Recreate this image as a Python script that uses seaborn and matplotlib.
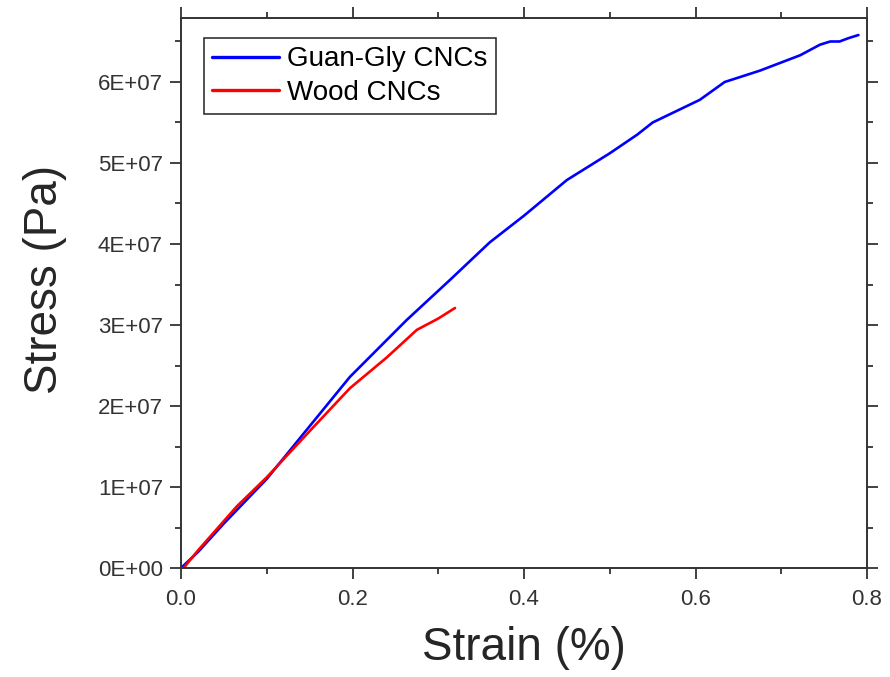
import matplotlib
matplotlib.use("Agg")
import matplotlib.pyplot as plt
import seaborn as sns
import pandas as pd
from matplotlib.ticker import MultipleLocator, FuncFormatter

# Data (strain in %, stress in Pa)
guan_strain = [0.0, 0.02, 0.05, 0.10, 0.143, 0.197, 0.263, 0.314, 0.36, 0.40, 0.45,
               0.50, 0.532, 0.55, 0.605, 0.634, 0.675, 0.722, 0.745, 0.757, 0.768, 0.778, 0.79]
guan_stress = [0.0, 0.20e7, 0.55e7, 1.10e7, 1.66e7, 2.36e7, 3.06e7, 3.56e7, 4.02e7, 4.35e7, 4.79e7,
               5.12e7, 5.35e7, 5.50e7, 5.78e7, 6.00e7, 6.14e7, 6.33e7, 6.46e7, 6.50e7, 6.50e7, 6.54e7, 6.58e7]
wood_strain = [0.003, 0.02, 0.065, 0.10, 0.15, 0.197, 0.24, 0.275, 0.30, 0.3195]
wood_stress = [0.0, 0.22e7, 0.76e7, 1.12e7, 1.69e7, 2.22e7, 2.60e7, 2.94e7, 3.08e7, 3.21e7]
series_names = ["Guan-Gly CNCs", "Wood CNCs"]
x_ticks = [0.0, 0.2, 0.4, 0.6, 0.8]
y_ticks = [0, 1e7, 2e7, 3e7, 4e7, 5e7, 6e7]

df = pd.concat([
    pd.DataFrame({"strain": guan_strain, "stress": guan_stress, "sample": series_names[0]}),
    pd.DataFrame({"strain": wood_strain, "stress": wood_stress, "sample": series_names[1]}),
], ignore_index=True)

sns.set_theme(style="ticks")
plt.rcParams["font.family"] = ["Liberation Sans", "DejaVu Sans"]

fig = plt.figure(figsize=(8.9, 6.77), dpi=100)
ax = fig.add_axes([0.2034, 0.161, 0.7708, 0.8124])

sns.lineplot(data=df, x="strain", y="stress", hue="sample", sort=False, estimator=None,
             palette={series_names[0]: "#0000ff", series_names[1]: "#ff0000"},
             linewidth=1.9, ax=ax)

ax.set_xlim(0, 0.8)
ax.set_ylim(0, 6.79e7)
ax.set_xticks(x_ticks)
ax.set_xticklabels([f"{v:.1f}" for v in x_ticks])
ax.set_yticks(y_ticks)
ax.yaxis.set_major_formatter(FuncFormatter(lambda v, p: f"{v:.0E}"))
ax.xaxis.set_minor_locator(MultipleLocator(0.1))
ax.yaxis.set_minor_locator(MultipleLocator(0.5e7))

for s in ax.spines.values():
    s.set_visible(True)
    s.set_linewidth(1.4)
    s.set_color("#333333")

ax.tick_params(which="both", direction="out", top=True, right=True, colors="#333333",
               labelcolor="#333333", labelsize=16, width=1.3)
ax.tick_params(which="major", length=8)
ax.tick_params(which="minor", length=4.3)
ax.tick_params(axis="x", pad=7)
ax.tick_params(axis="y", pad=5)

ax.set_xlabel("Strain (%)", fontsize=33)
ax.set_ylabel("Stress (Pa)", fontsize=33)
ax.xaxis.set_label_coords(0.5, -0.105)
ax.yaxis.set_label_coords(-0.166, 0.525)

leg = ax.legend(loc="upper left", bbox_to_anchor=(0.0335, 0.9635), fontsize=20,
                frameon=True, fancybox=False, shadow=False, handlelength=2.4,
                handletextpad=0.3, borderpad=0.3, labelspacing=0.26, borderaxespad=0)
leg.get_frame().set_edgecolor("#222222")
leg.get_frame().set_linewidth(1.1)
leg.get_frame().set_alpha(1)
for line in leg.get_lines():
    line.set_linewidth(2.4)
for t in leg.get_texts():
    t.set_color("black")

fig.savefig("out.png", dpi=100)
